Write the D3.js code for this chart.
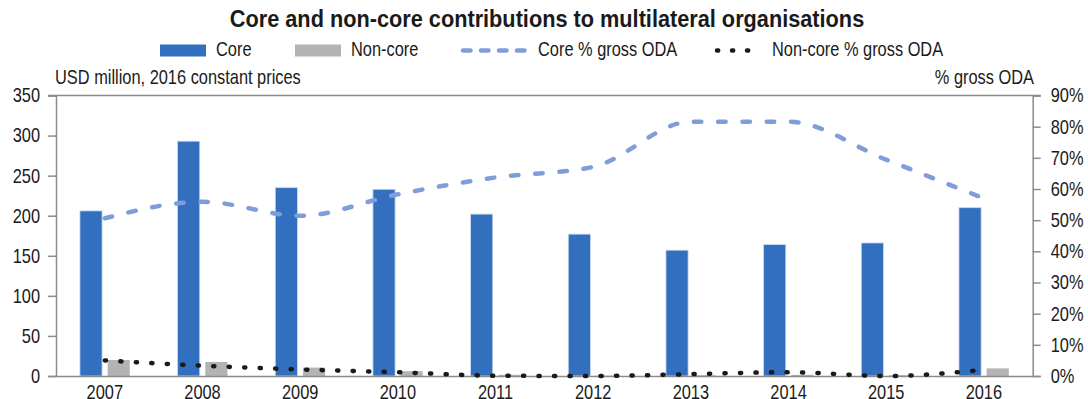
<!DOCTYPE html>
<html>
<head>
<meta charset="utf-8">
<script src="https://cdn.jsdelivr.net/npm/d3@7"></script>
<style>
  html, body { margin: 0; padding: 0; background: #fff; }
  svg { display: block; }
  text { font-family: 'Liberation Sans', Arial, sans-serif; fill: #1a1a1a; }
</style>
</head>
<body>
<svg id="chart" width="1088" height="399"></svg>
<script>
const years = ['2007','2008','2009','2010','2011','2012','2013','2014','2015','2016'];
const core = [206, 293, 235, 233, 202, 177, 157, 164, 166, 210];
const nonCore = [20, 17.5, 10.5, 6, 1.5, 0.5, 1, 1.5, 1, 9.5];
const corePct = [50.6, 55.9, 51.4, 58.3, 63.7, 67.1, 81.6, 81.6, 69.4, 57.0];
const nonCorePct = [5.0, 3.3, 2.1, 1.2, 0.1, 0.0, 0.6, 1.2, 0.0, 2.0];
const leftTicks = [0, 50, 100, 150, 200, 250, 300, 350];
const rightTicks = [0, 10, 20, 30, 40, 50, 60, 70, 80, 90];
const seriesNames = ['Core', 'Non-core', 'Core % gross ODA', 'Non-core % gross ODA'];

const C_CORE = '#336fbf', C_NON = '#b3b3b3', C_CPCT = '#7f9ed9', C_NPCT = '#1a1a1a', C_AXIS = '#8c8c8c';
const SX = 0.82; // horizontal condensing to mimic a narrow face

const svg = d3.select('#chart');
const m = { left: 56, right: 1032.7, top: 95.5, bottom: 376 };

function ntext(parent, x, y, str, size, anchor, bold, sx) {
  return parent.append('text')
    .attr('transform', `translate(${x},${y}) scale(${sx || SX},1)`)
    .attr('text-anchor', anchor || 'start')
    .style('font-size', size + 'px')
    .style('font-weight', bold ? 'bold' : 'normal')
    .text(str);
}

const x0 = d3.scaleBand().domain(years).range([m.left, m.right]).paddingInner(0.49).paddingOuter(0.245);
const x1 = d3.scaleBand().domain(['core', 'noncore']).range([0, x0.bandwidth()]).paddingInner(0.2);
const xc = d => x0(d) + x0.bandwidth() / 2;
const yL = d3.scaleLinear().domain([0, 350]).range([m.bottom, m.top]);
const yR = d3.scaleLinear().domain([0, 90]).range([m.bottom, m.top]);

// Title
ntext(svg, 547, 27, 'Core and non-core contributions to multilateral organisations', 24, 'middle', true, 0.905);

// Legend
const lg = svg.append('g');
lg.append('rect').attr('x', 160).attr('y', 44.5).attr('width', 46).attr('height', 12).attr('fill', C_CORE);
ntext(lg, 216, 56, seriesNames[0], 20);
lg.append('rect').attr('x', 295).attr('y', 44.5).attr('width', 46).attr('height', 12).attr('fill', C_NON);
ntext(lg, 351, 56, seriesNames[1], 20);
lg.append('line').attr('x1', 463).attr('x2', 528).attr('y1', 50.5).attr('y2', 50.5)
  .attr('stroke', C_CPCT).attr('stroke-width', 4.5).attr('stroke-linecap', 'round').attr('stroke-dasharray', '7.5 10.5');
ntext(lg, 538, 56, seriesNames[2], 20);
lg.append('line').attr('x1', 717).attr('x2', 762).attr('y1', 50.5).attr('y2', 50.5)
  .attr('stroke', C_NPCT).attr('stroke-width', 4.5).attr('stroke-linecap', 'round').attr('stroke-dasharray', '1.2 13.8');
ntext(lg, 772, 56, seriesNames[3], 20);

// Axis unit labels
ntext(svg, 55, 84, 'USD million, 2016 constant prices', 20);
ntext(svg, 1034, 84, '% gross ODA', 20, 'end');

// Bars
const groups = svg.append('g').selectAll('g').data(years).join('g')
  .attr('transform', d => `translate(${x0(d)},0)`);
groups.append('rect')
  .attr('x', x1('core')).attr('width', x1.bandwidth())
  .attr('y', (d, i) => yL(core[i])).attr('height', (d, i) => yL(0) - yL(core[i]))
  .attr('fill', C_CORE).attr('stroke', '#c9d8ef').attr('stroke-width', 0.8);
groups.append('rect')
  .attr('x', x1('noncore')).attr('width', x1.bandwidth())
  .attr('y', (d, i) => yL(nonCore[i])).attr('height', (d, i) => yL(0) - yL(nonCore[i]))
  .attr('fill', C_NON);

// Axes
const axL = svg.append('g').attr('transform', `translate(${m.left},0)`)
  .call(d3.axisLeft(yL).tickValues(leftTicks).tickSize(8).tickPadding(8));
const axR = svg.append('g').attr('transform', `translate(${m.right},0)`)
  .call(d3.axisRight(yR).tickValues(rightTicks).tickSize(8).tickPadding(10).tickFormat(d => d + '%'));
const axB = svg.append('g').attr('transform', `translate(0,${m.bottom})`)
  .call(d3.axisBottom(x0).tickSize(0).tickPadding(9));
[axL, axR, axB].forEach(a => {
  a.attr('font-family', null).attr('font-size', null);
  a.selectAll('path.domain').attr('stroke', C_AXIS).attr('stroke-width', 1.5);
  a.selectAll('.tick line').attr('stroke', C_AXIS).attr('stroke-width', 1.5);
  a.selectAll('.tick text').style('font-size', '20px').attr('fill', '#1a1a1a')
    .each(function () {
      const t = d3.select(this);
      const tx = +t.attr('x') || 0, ty = +t.attr('y') || 0;
      t.attr('x', null).attr('y', null).attr('transform', `translate(${tx},${ty}) scale(${SX},1)`);
    });
});
axB.selectAll('.tick text').attr('dy', '0.71em');
// top border
svg.append('line').attr('x1', m.left - 8).attr('x2', m.right + 8).attr('y1', m.top).attr('y2', m.top)
  .attr('stroke', C_AXIS).attr('stroke-width', 1.5);

// Lines
const lineGen = d3.line().x((d, i) => xc(years[i])).y(d => yR(d)).curve(d3.curveMonotoneX);
svg.append('path').datum(corePct).attr('d', lineGen).attr('fill', 'none')
  .attr('stroke', C_CPCT).attr('stroke-width', 4.5).attr('stroke-linecap', 'round').attr('stroke-dasharray', '7.5 16.8');
svg.append('path').datum(nonCorePct).attr('d', lineGen).attr('fill', 'none')
  .attr('stroke', C_NPCT).attr('stroke-width', 4.5).attr('stroke-linecap', 'round').attr('stroke-dasharray', '1.2 14.3');
</script>
</body>
</html>
